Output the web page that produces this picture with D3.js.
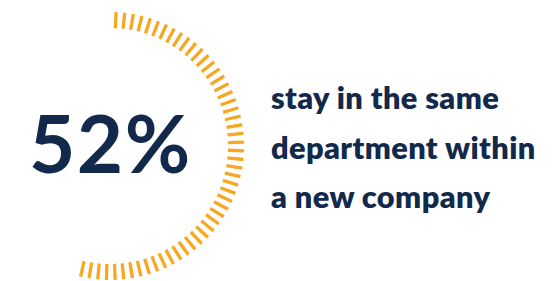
<!DOCTYPE html>
<html>
<head>
<meta charset="utf-8">
<script src="https://cdn.jsdelivr.net/npm/d3@7"></script>
<style>
  html, body { margin: 0; padding: 0; background: #ffffff; }
  svg { display: block; }
</style>
</head>
<body>
<svg id="chart" width="560" height="281"></svg>
<script>
// ---- data ----
const percentValue = 52;               // share shown
const percentLabel = ["52%"];
const labelLines = ["stay in the same", "department within", "a new company"];

// ---- layout ----
const W = 560, H = 281;
const cx = 110, cy = 146;
const rOuter = 134, rInner = 118;
const navy = "#12294b";
const orange = "#f7a823";

const svg = d3.select("#chart");

// one tick per percent point
const ticks = d3.range(percentValue);
const angle = d3.scaleLinear()
  .domain([0, percentValue - 1])
  .range([2.6, 192.7]);   // degrees, clockwise from 12 o'clock

const g = svg.append("g").attr("transform", `translate(${cx},${cy})`);
g.selectAll("line.tick")
  .data(ticks)
  .join("line")
  .attr("class", "tick")
  .attr("x1", d => rInner * Math.sin(angle(d) * Math.PI / 180))
  .attr("y1", d => -rInner * Math.cos(angle(d) * Math.PI / 180))
  .attr("x2", d => rOuter * Math.sin(angle(d) * Math.PI / 180))
  .attr("y2", d => -rOuter * Math.cos(angle(d) * Math.PI / 180))
  .attr("stroke", orange)
  .attr("stroke-width", 3.3);

// big number
const big = svg.append("text")
  .text(percentLabel[0])
  .attr("x", 29)
  .attr("y", 173)
  .attr("fill", navy)
  .attr("font-family", "Lato, 'Open Sans', sans-serif")
  .attr("font-weight", 700)
  .attr("letter-spacing", 1.5)
  .attr("font-size", 76);
// fit width to ~163px
const bw = big.node().getComputedTextLength();
big.attr("font-size", 76 * 163 / bw);

// label lines
const lbl = svg.append("g")
  .attr("fill", navy)
  .attr("font-family", "Lato, 'Open Sans', sans-serif")
  .attr("font-weight", 800)
  .attr("letter-spacing", 0.4);
const baselines = [109, 159, 208];
const texts = lbl.selectAll("text")
  .data(labelLines)
  .join("text")
  .attr("x", 271)
  .attr("y", (d, i) => baselines[i])
  .attr("font-size", 30)
  .text(d => d);
const w2 = texts.nodes()[1].getComputedTextLength();
texts.attr("font-size", 30 * 265 / w2);
</script>
</body>
</html>
